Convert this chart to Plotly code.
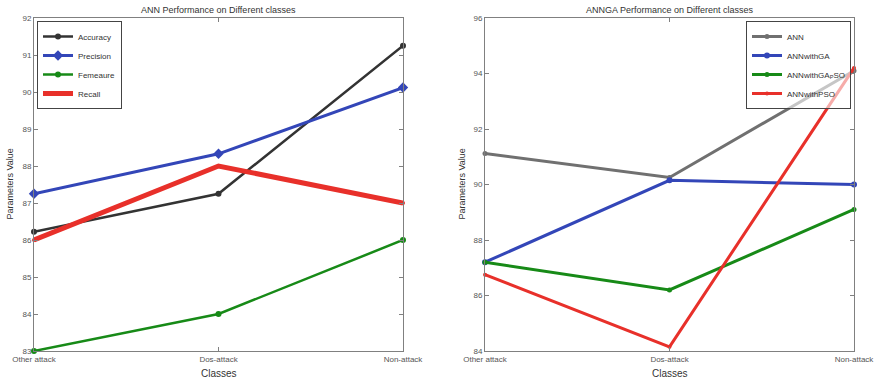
import plotly.graph_objects as go

categories = ["Other attack", "Dos-attack", "Non-attack"]

# Left panel: ANN performance
ann_accuracy = [86.22, 87.25, 91.25]
ann_precision = [87.25, 88.33, 90.12]
ann_fmeasure = [83.0, 84.0, 86.0]
ann_recall = [86.0, 88.0, 87.0]

# Right panel: ANNGA performance
r_ann = [91.12, 90.25, 94.1]
r_ann_ga = [87.2, 90.15, 90.0]
r_ann_gapso = [87.2, 86.2, 89.1]
r_ann_pso = [86.75, 84.15, 94.2]

FONT = "Liberation Sans, Arial, sans-serif"
fig = go.Figure()

def add(x, y, name, color, width, xa, ya, legend, symbol="circle", msize=6):
    fig.add_trace(go.Scatter(
        x=x, y=y, name=name, mode="lines+markers",
        line=dict(color=color, width=width),
        marker=dict(color=color, size=msize, symbol=symbol),
        xaxis=xa, yaxis=ya, legend=legend, cliponaxis=False))

add(categories, ann_accuracy, "Accuracy", "#333333", 2.5, "x", "y", "legend")
add(categories, ann_precision, "Precision", "#3346b8", 3, "x", "y", "legend", symbol="diamond", msize=8)
add(categories, ann_fmeasure, "Femeaure", "#178a17", 2.5, "x", "y", "legend")
add(categories, ann_recall, "Recall", "#e8302a", 5, "x", "y", "legend", msize=4)

add(categories, r_ann, "ANN", "#707070", 3, "x2", "y2", "legend2", msize=5)
add(categories, r_ann_ga, "ANNwithGA", "#3346b8", 3, "x2", "y2", "legend2", msize=6)
add(categories, r_ann_gapso, "ANNwithGA<sub>P</sub>SO", "#178a17", 3, "x2", "y2", "legend2", msize=5)
add(categories, r_ann_pso, "ANNwithPSO", "#e8302a", 3, "x2", "y2", "legend2", msize=4)

axis_common = dict(showline=True, linecolor="#808080", linewidth=1, mirror="allticks",
                   ticks="inside", ticklen=4, tickcolor="#808080",
                   tickfont=dict(family=FONT, size=8, color="#555555"),
                   showgrid=False, zeroline=False, automargin=False)

W, H = 874, 384
LX = [34, 403]
RX = [485, 854]
TOP, BOT = 18, 351

fig.update_layout(
    width=W, height=H, margin=dict(l=0, r=0, t=0, b=0, autoexpand=False),
    paper_bgcolor="white", plot_bgcolor="white",
    showlegend=True,
    font=dict(family=FONT, color="#444444"),
    xaxis=dict(domain=[LX[0] / W, LX[1] / W], type="category", range=[0, 2], anchor="y", **axis_common),
    yaxis=dict(domain=[1 - BOT / H, 1 - TOP / H], range=[83, 92], dtick=1, anchor="x", **axis_common),
    xaxis2=dict(domain=[RX[0] / W, RX[1] / W], type="category", range=[0, 2], anchor="y2", **axis_common),
    yaxis2=dict(domain=[1 - BOT / H, 1 - TOP / H], range=[84, 96], dtick=2, anchor="x2", **axis_common),
    legend=dict(x=37 / W, y=1 - 21 / H, xanchor="left", yanchor="top",
                bordercolor="#444444", borderwidth=1, bgcolor="rgba(255,255,255,0.85)",
                font=dict(family=FONT, size=8, color="#333333"),
                tracegroupgap=0, itemwidth=30),
    legend2=dict(x=851 / W, y=1 - 21 / H, xanchor="right", yanchor="top",
                 bordercolor="#444444", borderwidth=1, bgcolor="rgba(255,255,255,0.6)",
                 font=dict(family=FONT, size=8, color="#333333"),
                 tracegroupgap=0, itemwidth=30),
)

def ann(text, x, y, size, angle=0):
    fig.add_annotation(text=text, x=x / W, y=1 - y / H, xref="paper", yref="paper",
                       xanchor="center", yanchor="middle", showarrow=False, textangle=angle,
                       font=dict(family=FONT, size=size, color="#333333"))

ann("ANN Performance on Different classes", sum(LX) / 2, 10, 9)
ann("ANNGA Performance on Different classes", sum(RX) / 2, 10, 9)
ann("Classes", sum(LX) / 2, 373, 10)
ann("Classes", sum(RX) / 2, 373, 10)
ann("Parameters Value", 9, (TOP + BOT) / 2, 9, -90)
ann("Parameters Value", 461, (TOP + BOT) / 2, 9, -90)

fig.write_html("out.html")
